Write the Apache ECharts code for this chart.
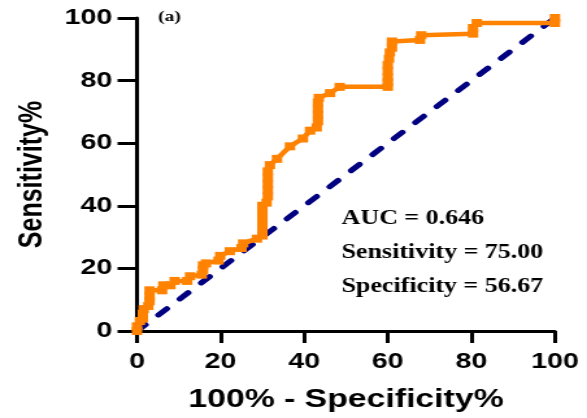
<!DOCTYPE html>
<html>
<head>
<meta charset="utf-8">
<script src="https://cdn.jsdelivr.net/npm/echarts@6/dist/echarts.min.js"></script>
<style>
  html, body { margin: 0; padding: 0; background: #fff; overflow: hidden; }
  /* the reference picture is stretched sideways, so the chart is drawn narrow and widened */
  #roc { width: 452px; height: 418px; transform: scaleX(1.2987); transform-origin: 0 0; }
</style>
</head>
<body>
<div id="roc"></div>
<script>
// 100% - Specificity% (x) and Sensitivity% (y) of the ROC curve
var fpr = [0, 0, 0.7, 1.4, 1.4, 1.6, 2.7, 3, 3, 3, 6, 6.3, 8, 9, 12, 12.7, 15.5, 15.8, 15.8, 16.5,
    19.5, 19.9, 22.2, 25, 25.4, 28.7, 30, 30, 30, 30, 30, 30, 31, 31.3, 31.3, 31.3, 31.3, 31.3,
    31.8, 33.5, 36.6, 39.7, 41.4, 43, 43.3, 43.3, 43.3, 43.3, 43.5, 46.2, 48.5, 60, 60, 60, 60,
    60, 60.3, 60.5, 61, 61, 67.7, 68, 80.4, 80.4, 81.3, 100, 100];
var tpr = [0, 1.5, 3.2, 4, 5.5, 7, 8, 9.5, 11, 13, 13, 14.6, 14.6, 16, 16, 17.5, 18, 19.5, 21, 21.6,
    22.5, 24, 25.5, 26.5, 28, 29.5, 30.5, 32, 34, 36, 38, 40, 41, 43, 45, 47, 49, 51,
    53, 55, 59, 61.5, 64, 65, 67, 69, 71, 73, 74.5, 76, 78, 78, 79.5, 81, 83,
    85, 87, 89, 90.5, 92.5, 93, 94.5, 95, 96.8, 98.4, 98.4, 100];
// chance line
var refX = [0, 100];
var refY = [0, 100];
var ticks = [0, 20, 40, 60, 80, 100];
var notes = ['AUC = 0.646', 'Sensitivity = 75.00', 'Specificity = 56.67'];

function pairs(xs, ys) {
    return xs.map(function(x, i) { return [x, ys[i]]; });
}

var myChart = echarts.init(document.getElementById('roc'));
var sans = 'Liberation Sans, Arial, sans-serif';
var serif = 'Liberation Serif, Times New Roman, serif';

var axisCommon = {
    type: 'value',
    min: ticks[0],
    max: ticks[ticks.length - 1],
    interval: 20,
    splitLine: { show: false },
    axisLine: { show: true, lineStyle: { color: '#000', width: 3 } },
    axisTick: { show: true, inside: false, lineStyle: { color: '#000', width: 3 } },
    axisLabel: { color: '#000', fontFamily: sans, fontWeight: 'bold', fontSize: 22 },
    nameLocation: 'middle',
    nameTextStyle: { color: '#000', fontFamily: sans, fontWeight: 'bold' }
};

option = {
    animation: false,
    backgroundColor: '#fff',
    grid: { left: 105.5, right: 24.7, top: 18, bottom: 85, containLabel: false },
    xAxis: echarts.util.merge({
        name: '100% - Specificity%',
        nameGap: 56,
        nameTextStyle: { fontSize: 26 },
        axisTick: { length: 12 },
        axisLabel: { margin: 20 }
    }, axisCommon),
    yAxis: echarts.util.merge({
        name: 'Sensitivity%',
        nameGap: 68,
        nameTextStyle: { fontSize: 25 },
        axisTick: { length: 15 },
        axisLabel: { margin: 19 }
    }, axisCommon),
    graphic: [
        { type: 'text', left: 121.7, top: 10, style: { text: '(a)', font: 'bold 15px ' + serif, fill: '#000' } },
        { type: 'text', left: 263, top: 209, style: { text: notes[0], font: 'bold 20px ' + serif, fill: '#000' } },
        { type: 'text', left: 263, top: 243, style: { text: notes[1], font: 'bold 20px ' + serif, fill: '#000' } },
        { type: 'text', left: 263, top: 277, style: { text: notes[2], font: 'bold 20px ' + serif, fill: '#000' } }
    ],
    series: [{
            name: 'Reference',
            type: 'line',
            data: pairs(refX, refY),
            showSymbol: false,
            clip: false,
            lineStyle: { color: '#000080', width: 5, type: [9, 14], cap: 'round' },
            z: 2
        },
        {
            name: 'ROC',
            type: 'line',
            data: pairs(fpr, tpr),
            symbol: 'rect',
            symbolSize: 8,
            clip: false,
            itemStyle: { color: '#ff8200' },
            lineStyle: { color: '#ff8200', width: 4.5 },
            z: 3
        }
    ]
};

myChart.setOption(option);
</script>
</body>
</html>
